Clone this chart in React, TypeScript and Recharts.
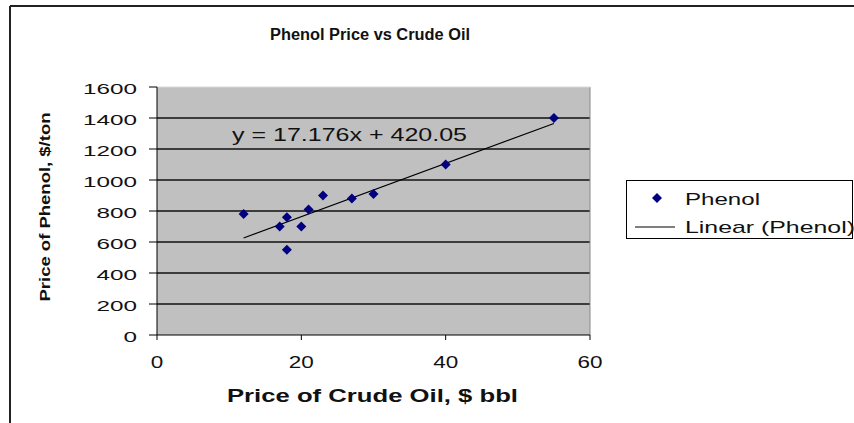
import {
  CartesianGrid,
  Label,
  Legend,
  ReferenceLine,
  Scatter,
  ScatterChart,
  XAxis,
  YAxis,
} from "recharts";

const crudeOil = [12, 17, 18, 18, 20, 21, 23, 27, 30, 40, 55];
const phenolPrice = [780, 700, 760, 550, 700, 810, 900, 880, 910, 1100, 1400];

// Excel linear trendline, as printed on the chart
const trendSlope = 17.176;
const trendIntercept = 420.05;
const trendRange = [12, 55];

const xTicks = [0, 20, 40, 60];
const yTicks = [0, 200, 400, 600, 800, 1000, 1200, 1400, 1600];
const gridValues = [200, 400, 600, 800, 1000, 1200, 1400];

const seriesName = "Phenol";
const trendName = "Linear (Phenol)";
const titleText = "Phenol Price vs Crude Oil";
const equationText = "y = 17.176x + 420.05";
const xTitle = "Price of Crude Oil, $ bbl";
const yTitle = "Price of Phenol, $/ton";

const FONT = '"Liberation Sans", Arial, sans-serif';
const NAVY = "#000080";

const points = crudeOil.map((x, i) => ({ x, y: phenolPrice[i] }));
const trend = trendRange.map((x) => ({ x, y: trendSlope * x + trendIntercept }));

function Diamond(props: any) {
  const { cx, cy } = props;
  const r = 5;
  return (
    <polygon
      points={`${cx},${cy - r} ${cx + r},${cy} ${cx},${cy + r} ${cx - r},${cy}`}
      fill={NAVY}
    />
  );
}

function YTick(props: any) {
  const { x, y, payload } = props;
  const s = String(payload.value);
  return (
    <text
      x={x}
      y={y + 7}
      textAnchor="end"
      fontFamily={FONT}
      fontSize={15}
      fill="#111"
      textLength={s.length * 13.5}
      lengthAdjust="spacingAndGlyphs"
    >
      {s}
    </text>
  );
}

function XTick(props: any) {
  const { x, y, payload } = props;
  const s = String(payload.value);
  return (
    <text
      x={x}
      y={y + 26}
      textAnchor="middle"
      fontFamily={FONT}
      fontSize={16}
      fill="#111"
      textLength={s.length * 12.5}
      lengthAdjust="spacingAndGlyphs"
    >
      {s}
    </text>
  );
}

function LegendBox() {
  return (
    <svg width={228} height={60} style={{ overflow: "visible", display: "block" }}>
      <rect x={0.5} y={0.5} width={226} height={58} fill="#fff" stroke="#000" />
      <polygon points="31,13 36,18 31,23 26,18" fill={NAVY} />
      <text x={59} y={25} fontFamily={FONT} fontSize={17} fill="#111" textLength={75} lengthAdjust="spacingAndGlyphs">
        {seriesName}
      </text>
      <line x1={9} y1={47} x2={49} y2={47} stroke="#000" strokeWidth={1.2} />
      <text x={59} y={53} fontFamily={FONT} fontSize={17} fill="#111" textLength={170} lengthAdjust="spacingAndGlyphs">
        {trendName}
      </text>
    </svg>
  );
}

export default function App() {
  return (
    <div style={{ position: "absolute", left: 0, top: 0, width: 854, height: 423, background: "#fff" }}>
      <svg width={854} height={423} style={{ position: "absolute", left: 0, top: 0 }}>
        <line x1={10} y1={6} x2={854} y2={6} stroke="#222" strokeWidth={2} />
        <line x1={10} y1={6} x2={10} y2={423} stroke="#222" strokeWidth={2} />
        <text
          x={270}
          y={40}
          fontFamily={FONT}
          fontWeight="bold"
          fontSize={16}
          fill="#111"
          textLength={200}
          lengthAdjust="spacingAndGlyphs"
        >
          {titleText}
        </text>
      </svg>
      <div style={{ position: "absolute", left: 0, top: 0 }}>
        <ScatterChart width={854} height={423} margin={{ top: 87, right: 264, bottom: 58, left: 97 }}>
          <CartesianGrid
            vertical={false}
            horizontalValues={gridValues}
            fill="#c0c0c0"
            fillOpacity={1}
            stroke="#111"
            strokeWidth={1.5}
          />
          <XAxis
            type="number"
            dataKey="x"
            domain={[0, 60]}
            ticks={xTicks}
            height={30}
            tickSize={5}
            stroke="#000"
            tick={<XTick />}
          >
            <Label
              content={() => (
                <text
                  x={227}
                  y={402}
                  fontFamily={FONT}
                  fontWeight="bold"
                  fontSize={18}
                  fill="#111"
                  textLength={291}
                  lengthAdjust="spacingAndGlyphs"
                >
                  {xTitle}
                </text>
              )}
            />
          </XAxis>
          <YAxis
            type="number"
            dataKey="y"
            domain={[0, 1600]}
            ticks={yTicks}
            width={60}
            tickSize={8}
            tickMargin={12}
            stroke="#000"
            tick={<YTick />}
          >
            <Label
              content={() => (
                <text
                  x={0}
                  y={0}
                  transform="translate(50, 207) rotate(-90)"
                  textAnchor="middle"
                  fontFamily={FONT}
                  fontWeight="bold"
                  fontSize={15}
                  fill="#111"
                  textLength={189}
                  lengthAdjust="spacingAndGlyphs"
                >
                  {yTitle}
                </text>
              )}
            />
          </YAxis>
          <ReferenceLine x={60} stroke="#8a8a8a" />
          <ReferenceLine y={1600} stroke="#d8d8d8" />
          <Scatter
            name={trendName}
            data={trend}
            line={{ stroke: "#000", strokeWidth: 1.2 }}
            shape={() => <g />}
            isAnimationActive={false}
          />
          <Scatter name={seriesName} data={points} fill={NAVY} shape={<Diamond />} isAnimationActive={false} />
          <Legend
            layout="vertical"
            align="center"
            verticalAlign="middle"
            content={() => <LegendBox />}
            wrapperStyle={{ left: 626, top: 180, width: 228, height: 60 }}
          />
        </ScatterChart>
      </div>
      <svg width={854} height={423} style={{ position: "absolute", left: 0, top: 0, pointerEvents: "none" }}>
        <text
          x={232}
          y={141}
          fontFamily={FONT}
          fontSize={18}
          fill="#111"
          textLength={235}
          lengthAdjust="spacingAndGlyphs"
        >
          {equationText}
        </text>
      </svg>
    </div>
  );
}
